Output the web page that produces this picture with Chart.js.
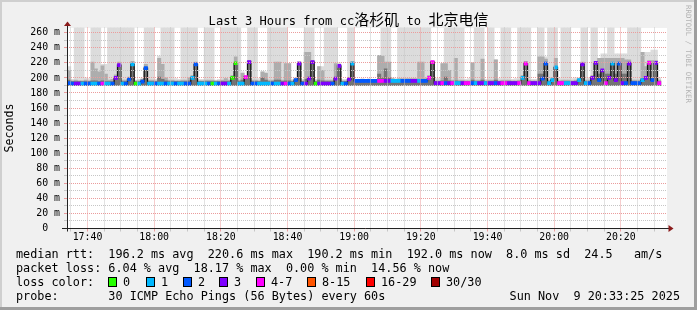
<!DOCTYPE html>
<html>
<head>
<meta charset="utf-8">
<script src="https://cdn.jsdelivr.net/npm/chart.js@4.4.0/dist/chart.umd.min.js"></script>
<style>
  html, body { margin: 0; padding: 0; background: #f0f0f0; overflow: hidden; }
  #wrap { position: relative; width: 697px; height: 310px; }
  canvas { position: absolute; left: 0; top: 0; }
  .t { position: absolute; white-space: pre; font-family: 'DejaVu Sans Mono', monospace; color: #000; }
  .leg { font-size: 11.8px; line-height: 14px; }
  #title { left: 0; width: 697px; text-align: center; top: 12.8px; font-size: 12.1px; line-height: 16px; }
  .cjk { font-family: 'Noto Sans CJK SC', sans-serif; font-size: 15px; line-height: 0; }
  .box { position: absolute; width: 9px; height: 10px; box-sizing: border-box; border: 1px solid #000; top: 277px; }
</style>
</head>
<body>
<div id="wrap">
  <canvas id="c" width="697" height="310"></canvas>
  <div id="title" class="t">Last 3 Hours from cc<span class="cjk">洛杉矶</span> to <span class="cjk">北京电信</span></div>
  <div class="t leg" style="left:16px; top:247.2px">median rtt:  196.2 ms avg  220.6 ms max  190.2 ms min  192.0 ms now  8.0 ms sd  24.5   am/s</div>
  <div class="t leg" style="left:16px; top:261.2px">packet loss: 6.04 % avg  18.17 % max  0.00 % min  14.56 % now</div>
  <div class="t leg" style="left:16px; top:275px">loss color:</div>
  <div class="t leg" style="left:16px; top:289px">probe:       30 ICMP Echo Pings (56 Bytes) every 60s</div>
  <div class="t leg" style="right:17px; top:289px">Sun Nov  9 20:33:25 2025</div>
</div>
<script>
// one column per minute, 17:34 .. 20:31 (minutes counted from 17:00)
const minutes = [];
for (let m = 34; m <= 211; m++) minutes.push(m);

const median = [
  193, 192.5, 192.5, 192.5, 192.5, 192.5, 192.5, 192.5, 192.5, 192.5,
  192.5, 192.5, 192.5, 192.5, 200, 217, 192.5, 192.5, 198, 218,
  192.5, 192.5, 195, 213, 192.5, 192.5, 192.5, 192.5, 192.5, 192.5,
  192.5, 192.5, 192.5, 192.5, 192.5, 192.5, 192.5, 200, 218, 192.5,
  192.5, 192.5, 192.5, 192.5, 192.5, 192.5, 192.5, 192.5, 192.5, 200,
  219.5, 192.5, 192.5, 201, 221, 192.5, 192.5, 192.5, 192.5, 192.5,
  192.5, 192.5, 192.5, 192.5, 192.5, 192.5, 192.5, 192.5, 197, 219,
  192.5, 192.5, 199, 221, 192.5, 192.5, 192.5, 192.5, 192.5, 192.5,
  199, 216, 192.5, 192.5, 198, 219, 196, 196, 196, 196,
  196, 196, 196, 196, 196, 196, 196, 196, 196, 196,
  196, 196, 196, 196, 196, 196, 196, 196, 200, 221,
  193, 193, 193, 193, 193, 193, 193, 193, 193, 193,
  193, 193, 193, 193, 193, 193, 193, 193, 193, 193,
  193, 193, 193, 193, 193, 193, 200, 219, 193, 193,
  193, 193, 199, 219, 193, 197, 214, 193, 193, 193,
  193, 193, 193, 197, 218, 193, 193, 200, 220, 197,
  210, 193, 200, 219, 197, 219, 193, 193, 219, 193,
  193, 193, 197, 200, 220, 197, 220, 193
];

// index into lossLabels / lossColors
const lossIdx = [
  2, 2, 3, 3, 1, 2, 2, 1, 1, 2,
  4, 1, 1, 2, 3, 3, 1, 2, 2, 1,
  0, 1, 2, 2, 1, 1, 2, 1, 1, 2,
  1, 1, 2, 1, 1, 2, 2, 1, 2, 1,
  1, 1, 2, 0, 1, 2, 3, 3, 1, 0,
  0, 1, 1, 4, 3, 2, 2, 1, 1, 1,
  1, 2, 1, 1, 3, 4, 2, 1, 2, 3,
  2, 3, 3, 3, 0, 3, 3, 3, 3, 2,
  3, 3, 1, 2, 3, 1, 2, 2, 2, 2,
  2, 2, 2, 4, 4, 3, 3, 1, 1, 1,
  2, 2, 2, 3, 3, 1, 2, 2, 4, 4,
  3, 3, 4, 2, 3, 4, 1, 1, 3, 4,
  4, 2, 1, 3, 3, 1, 3, 3, 2, 3,
  4, 4, 3, 3, 3, 4, 1, 4, 4, 3,
  3, 3, 2, 2, 1, 1, 1, 4, 4, 1,
  1, 3, 3, 1, 3, 1, 2, 3, 3, 2,
  3, 4, 3, 1, 3, 2, 3, 2, 3, 2,
  2, 2, 1, 3, 4, 2, 3, 4
];

// smoke: highest ping, upper band, inner band (ms)
const pingMax = [
  215, 198, 280, 280, 280, 200, 199, 280, 280, 280,
  218, 218, 280, 280, 280, 280, 280, 280, 280, 280,
  197, 198, 200, 280, 280, 280, 198, 229, 280, 280,
  280, 280, 199, 198, 280, 280, 280, 280, 280, 198,
  198, 280, 280, 280, 197, 198, 280, 280, 280, 280,
  280, 280, 208, 203, 280, 280, 280, 199, 208, 208,
  280, 280, 280, 280, 280, 280, 219, 198, 200, 222,
  198, 280, 280, 280, 198, 215, 215, 280, 280, 280,
  280, 220, 198, 198, 280, 280, 198, 198, 199, 198,
  199, 198, 198, 230, 280, 280, 280, 200, 199, 280,
  280, 280, 280, 280, 280, 280, 280, 280, 280, 223,
  199, 199, 219, 280, 280, 280, 280, 280, 280, 198,
  199, 220, 280, 280, 280, 198, 280, 280, 224, 199,
  280, 280, 280, 198, 199, 280, 280, 280, 280, 198,
  198, 280, 280, 228, 280, 280, 280, 199, 280, 280,
  280, 199, 200, 200, 280, 280, 200, 280, 280, 226,
  232, 232, 280, 280, 232, 232, 232, 232, 280, 280,
  280, 280, 234, 234, 234, 237, 237, 200
];
const pingUpper = [
  210, 196, 197, 196, 196, 197, 196, 221, 212, 208,
  216, 205, 197, 198, 204, 221, 197, 197, 201, 222,
  196, 196, 198, 218, 197, 197, 196, 226, 218, 200,
  197, 197, 196, 196, 197, 197, 200, 203, 221, 196,
  196, 197, 197, 197, 196, 196, 197, 199, 197, 203,
  228, 197, 206, 202, 223, 197, 197, 196, 208, 206,
  197, 197, 221, 221, 197, 219, 219, 196, 199, 221,
  196, 234, 234, 223, 196, 215, 210, 197, 197, 197,
  219, 218, 196, 196, 200, 222, 198, 198, 198, 198,
  198, 198, 198, 230, 229, 221, 221, 199, 198, 199,
  199, 199, 199, 199, 199, 221, 221, 199, 203, 222,
  196, 196, 219, 219, 210, 197, 226, 197, 197, 196,
  196, 220, 197, 197, 225, 196, 197, 197, 224, 196,
  197, 197, 197, 196, 196, 197, 203, 222, 197, 196,
  196, 228, 228, 225, 197, 200, 226, 196, 197, 197,
  197, 196, 197, 199, 221, 197, 197, 203, 222, 226,
  226, 226, 226, 226, 226, 226, 226, 224, 224, 197,
  197, 197, 234, 215, 223, 223, 223, 197
];
const pingInner = [
  197, 195, 195, 195, 195, 195, 195, 196, 196, 195,
  196, 195, 195, 195, 200, 217, 195, 195, 198, 218,
  195, 195, 197, 213, 195, 195, 195, 201, 198, 196,
  195, 195, 195, 195, 195, 195, 196, 200, 218, 195,
  195, 195, 195, 195, 195, 195, 195, 195, 195, 200,
  219.5, 195, 197, 201, 221, 195, 195, 195, 200, 197,
  195, 195, 197, 197, 195, 196, 196, 195, 197, 219,
  195, 198, 199, 221, 195, 197, 196, 195, 195, 195,
  199, 216, 195, 195, 198, 219, 197, 197, 197, 197,
  197, 197, 197, 205, 200, 212, 200, 197, 197, 197,
  197, 197, 197, 197, 197, 198, 198, 197, 200, 221,
  195, 195, 196, 201, 196, 195, 196, 195, 195, 195,
  195, 197, 195, 195, 197, 195, 195, 195, 197, 195,
  195, 195, 195, 195, 195, 195, 200, 219, 195, 195,
  195, 205, 205, 219, 195, 197, 214, 195, 195, 195,
  195, 195, 195, 197, 218, 195, 195, 200, 220, 205,
  210, 205, 205, 219, 205, 219, 205, 205, 219, 195,
  195, 195, 199, 200, 220, 199, 220, 195
];

const FLOOR = 190;   // fastest ping, bottom of the smoke
const lossLabels = ['0', '1', '2', '3', '4-7', '8-15', '16-29', '30/30'];
const lossColors = ['#26ff00', '#00b8ff', '#0059ff', '#7e00ff', '#ff00ff', '#ff5500', '#ff0000', '#a10000'];

const RED = '#eb9c9c';
const GRAY = '#c6c6c6';
const MONO = "'DejaVu Sans Mono', monospace";

// legend boxes for loss colours
const wrap = document.getElementById('wrap');
const boxX = [108, 146, 183, 219, 256, 307, 366, 431];
lossLabels.forEach((lab, i) => {
  const b = document.createElement('div');
  b.className = 'box';
  b.style.left = boxX[i] + 'px';
  b.style.background = lossColors[i];
  wrap.appendChild(b);
  const t = document.createElement('div');
  t.className = 't leg';
  t.style.left = (boxX[i] + 15) + 'px';
  t.style.top = '275px';
  t.textContent = lab;
  wrap.appendChild(t);
});

const colX = i => minutes[i] + 0.5;
const smoke = (arr, color, order) => ({
  type: 'bar',
  data: arr.map((v, i) => ({ x: colX(i), y: [FLOOR, v] })),
  backgroundColor: color,
  borderWidth: 0,
  grouped: false,
  barPercentage: 1,
  categoryPercentage: 1,
  order
});

const frame = {
  id: 'frame',
  beforeDraw(chart) {
    const { ctx, chartArea: a, width, height } = chart;
    ctx.save();
    ctx.fillStyle = '#f0f0f0';
    ctx.fillRect(0, 0, width, height);
    ctx.fillStyle = '#cfcfcf';
    ctx.fillRect(0, 0, width, 2);
    ctx.fillRect(0, 0, 2, height);
    ctx.fillStyle = '#9e9e9e';
    ctx.fillRect(0, height - 3, width, 3);
    ctx.fillRect(width - 3, 0, 3, height);
    ctx.fillStyle = '#ffffff';
    ctx.fillRect(Math.round(a.left), Math.round(a.top), Math.round(a.right - a.left), Math.round(a.bottom - a.top));
    ctx.restore();
  },
  afterDraw(chart) {
    const { ctx, chartArea: a } = chart;
    const y0 = Math.round(chart.scales.y.getPixelForValue(0) - 0.5) + 0.5;
    const x0 = Math.round(a.left) + 0.5;
    ctx.save();
    ctx.strokeStyle = '#222';
    ctx.lineWidth = 1;
    ctx.beginPath();
    ctx.moveTo(x0, y0 + 3);
    ctx.lineTo(x0, a.top - 2);
    ctx.moveTo(a.left - 5, y0);
    ctx.lineTo(a.right + 2, y0);
    ctx.stroke();
    ctx.fillStyle = '#8b1c1c';
    ctx.beginPath();
    ctx.moveTo(x0, a.top - 6);
    ctx.lineTo(x0 - 3.5, a.top - 1.5);
    ctx.lineTo(x0 + 3.5, a.top - 1.5);
    ctx.fill();
    ctx.beginPath();
    ctx.moveTo(a.right + 6.5, y0);
    ctx.lineTo(a.right + 1.5, y0 - 3.5);
    ctx.lineTo(a.right + 1.5, y0 + 3.5);
    ctx.fill();
    // rrdtool watermark
    ctx.translate(688, 5);
    ctx.rotate(Math.PI / 2);
    ctx.font = '7.4px ' + MONO;
    ctx.fillStyle = '#b4b4b4';
    ctx.textBaseline = 'middle';
    ctx.fillText('RRDTOOL / TOBI OETIKER', 0, 0);
    ctx.restore();
  }
};

const hhmm = v => (17 + Math.floor(v / 60)) + ':' + String(v % 60).padStart(2, '0');

new Chart(document.getElementById('c'), {
  type: 'bar',
  data: {
    datasets: [
      smoke(pingMax, '#dcdcdc', 6),
      smoke(pingUpper, '#adadad', 5),
      smoke(pingInner, '#747474', 4),
      {
        type: 'line',
        data: median.map((v, i) => ({ x: colX(i), y: v })),
        stepped: 'middle',
        borderColor: '#151515',
        borderWidth: 1.3,
        pointRadius: 0,
        order: 2
      },
      {
        type: 'bar',
        data: median.map((v, i) => ({ x: colX(i), y: [v - 2, v + 2] })),
        backgroundColor: lossIdx.map(k => lossColors[k]),
        borderWidth: 0,
        grouped: false,
        barPercentage: 1,
        categoryPercentage: 1,
        order: 1
      }
    ]
  },
  options: {
    responsive: false,
    animation: false,
    devicePixelRatio: 1,
    events: [],
    layout: { padding: { top: 27.5, right: 30, bottom: 61.5, left: 0 } },
    plugins: { legend: { display: false }, title: { display: false }, tooltip: { enabled: false } },
    scales: {
      x: {
        type: 'linear',
        min: 33.85,
        max: 213.85,
        offset: false,
        afterBuildTicks: s => {
          const t = [];
          for (let v = 35; v <= 210; v += 5) t.push({ value: v });
          s.ticks = t;
        },
        afterFit: s => { s.height = 20; },
        grid: {
          offset: false,
          z: 1,
          lineWidth: 1,
          tickLength: 3,
          color: c => (c.tick && c.tick.value % 20 === 0 ? RED : GRAY)
        },
        border: { display: false, dash: [1, 1] },
        ticks: {
          autoSkip: false,
          maxRotation: 0,
          minRotation: 0,
          padding: 0,
          color: '#000',
          font: { family: MONO, size: 9.9 },
          callback: v => (v % 20 === 0 ? hhmm(v) : '')
        }
      },
      y: {
        min: 0,
        max: 267,
        afterBuildTicks: s => {
          const t = [];
          for (let v = 0; v <= 260; v += 10) t.push({ value: v });
          s.ticks = t;
        },
        afterFit: s => { s.width = 67; },
        grid: {
          z: 1,
          lineWidth: 1,
          tickLength: 3,
          color: c => (c.tick && c.tick.value % 20 === 0 ? RED : GRAY)
        },
        border: { display: false, dash: [1, 1] },
        title: {
          display: true,
          text: 'Seconds',
          color: '#000',
          font: { family: MONO, size: 11.6 },
          padding: { top: 3.5, bottom: 0 }
        },
        ticks: {
          autoSkip: false,
          padding: 4,
          color: '#000',
          font: { family: MONO, size: 9.9 },
          callback: v => (v === 0 ? '0  ' : v % 20 === 0 ? v + ' m' : '')
        }
      }
    }
  },
  plugins: [frame]
});
</script>
</body>
</html>
